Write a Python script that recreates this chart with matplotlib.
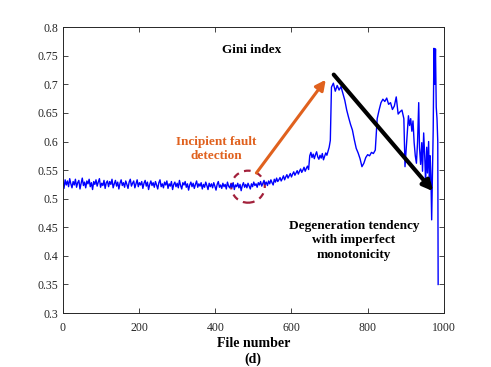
import numpy as np
import matplotlib
matplotlib.use("Agg")
import matplotlib.pyplot as plt
from matplotlib.patches import Ellipse

# Gini index per file
# steady phase and slow rise, every 3 files (0 - 702)
files_a = np.arange(0, 703, 3)
gini_a = [
    0.529, 0.518, 0.533, 0.524, 0.531, 0.521, 0.535, 0.526, 0.519, 0.530,
    0.524, 0.534, 0.520, 0.528, 0.532, 0.517, 0.527, 0.536, 0.523, 0.529,
    0.519, 0.531, 0.526, 0.534, 0.521, 0.528, 0.516, 0.530, 0.525, 0.533,
    0.522, 0.529, 0.535, 0.520, 0.527, 0.523, 0.532, 0.518, 0.528, 0.531,
    0.521, 0.530, 0.525, 0.534, 0.519, 0.526, 0.532, 0.522, 0.529, 0.517,
    0.527, 0.533, 0.523, 0.528, 0.520, 0.531, 0.525, 0.518, 0.529, 0.534,
    0.522, 0.527, 0.531, 0.519, 0.526, 0.533, 0.521, 0.528, 0.524, 0.530,
    0.518, 0.527, 0.532, 0.522, 0.529, 0.516, 0.525, 0.531, 0.523, 0.528,
    0.520, 0.530, 0.524, 0.517, 0.528, 0.533, 0.521, 0.526, 0.519, 0.529,
    0.524, 0.531, 0.518, 0.526, 0.522, 0.530, 0.516, 0.525, 0.529, 0.521,
    0.527, 0.519, 0.532, 0.523, 0.517, 0.528, 0.524, 0.530, 0.520, 0.526,
    0.515, 0.524, 0.529, 0.521, 0.527, 0.518, 0.525, 0.531, 0.520, 0.526,
    0.522, 0.528, 0.517, 0.525, 0.520, 0.529, 0.523, 0.516, 0.527, 0.521,
    0.526, 0.519, 0.528, 0.522, 0.515, 0.525, 0.530, 0.520, 0.524, 0.518,
    0.527, 0.521, 0.525, 0.517, 0.529, 0.522, 0.519, 0.526, 0.520, 0.528,
    0.516, 0.524, 0.521, 0.527, 0.519, 0.525, 0.514, 0.523, 0.528, 0.520,
    0.525, 0.519, 0.527, 0.522, 0.517, 0.526, 0.521, 0.529, 0.523, 0.526,
    0.520, 0.528, 0.524, 0.530, 0.522, 0.527, 0.532, 0.525, 0.529, 0.523,
    0.531, 0.526, 0.533, 0.528, 0.524, 0.534, 0.529, 0.536, 0.530, 0.533,
    0.537, 0.531, 0.535, 0.540, 0.533, 0.538, 0.542, 0.536, 0.540, 0.544,
    0.538, 0.543, 0.547, 0.541, 0.545, 0.549, 0.543, 0.548, 0.552, 0.546,
    0.550, 0.555, 0.548, 0.553, 0.557, 0.551, 0.575, 0.581, 0.572, 0.578,
    0.570, 0.577, 0.582, 0.573, 0.569, 0.576, 0.571, 0.579, 0.568, 0.574,
    0.580, 0.576, 0.583, 0.590, 0.602,
]

# peak, drop and second hump, every 5 files (705 - 890)
files_b = np.arange(705, 895, 5)
gini_b = [
    0.695, 0.702, 0.688, 0.698, 0.690, 0.696, 0.684, 0.672, 0.655, 0.642,
    0.630, 0.620, 0.603, 0.588, 0.580, 0.570, 0.556, 0.562, 0.572, 0.577,
    0.575, 0.581, 0.579, 0.585, 0.640, 0.655, 0.668, 0.674, 0.670, 0.676,
    0.665, 0.668, 0.656, 0.662, 0.678, 0.648, 0.652, 0.655,
]

# erratic end of life
files_c = [895, 898, 901, 904, 907, 910, 913, 916, 919, 922, 925, 928,
           931, 934, 936, 939, 942, 944, 947, 950, 952, 955, 957, 960,
           962, 964, 966, 968, 970, 972, 974, 976, 978, 980, 982, 984, 985]
gini_c = [0.640, 0.556, 0.585, 0.612, 0.645, 0.628, 0.640, 0.618, 0.636,
          0.598, 0.575, 0.562, 0.600, 0.668, 0.590, 0.560, 0.598, 0.548,
          0.615, 0.570, 0.528, 0.590, 0.545, 0.600, 0.525, 0.575, 0.540,
          0.463, 0.540, 0.620, 0.763, 0.700, 0.762, 0.660, 0.640, 0.600,
          0.350]

files = np.concatenate([files_a, files_b, files_c])
gini = np.concatenate([gini_a, gini_b, gini_c])

plt.rcParams['font.family'] = ['Liberation Serif', 'DejaVu Serif']

fig = plt.figure(figsize=(4.91, 3.67), dpi=100)
ax = fig.add_axes([0.128, 0.147, 0.776, 0.779])

ax.plot(files, gini, color='#0000FF', lw=1.0)

ax.set_xlim(0, 1000)
ax.set_ylim(0.3, 0.8)
ax.set_xticks(np.arange(0, 1001, 200))
ax.set_yticks(np.arange(0.3, 0.801, 0.05))
ax.set_yticklabels(['0.3', '0.35', '0.4', '0.45', '0.5', '0.55', '0.6',
                    '0.65', '0.7', '0.75', '0.8'])
ax.tick_params(direction='in', length=3.5, width=0.6, labelsize=8.5,
               top=True, right=True, colors='#262626', pad=3)
ax.tick_params(axis='x', pad=6.5)
for sp in ax.spines.values():
    sp.set_color('#262626')
    sp.set_linewidth(0.7)

ax.set_xlabel('File number\n(d)', fontsize=10, fontweight='bold',
              linespacing=1.3, labelpad=2)

ax.text(496, 0.76, 'Gini index', ha='center', va='center',
        fontsize=9.5, fontweight='bold')
ax.text(402, 0.587, 'Incipient fault\ndetection', ha='center', va='center',
        fontsize=9.5, fontweight='bold', color='#E0611E', linespacing=1.2)
ax.text(764, 0.427, 'Degeneration tendency\nwith imperfect\nmonotonicity',
        ha='center', va='center', fontsize=9.5, fontweight='bold',
        linespacing=1.25)

ax.add_patch(Ellipse((486, 0.521), 88, 0.056, fill=False, ls=(0, (3, 2.5)),
                     lw=1.6, edgecolor='#A2203A'))

ax.annotate('', xy=(690, 0.708), xytext=(508, 0.545),
            arrowprops=dict(arrowstyle='-|>,head_length=0.6,head_width=0.3',
                            color='#E0611E', lw=2.2, shrinkA=0, shrinkB=0))
ax.annotate('', xy=(972, 0.513), xytext=(711, 0.717),
            arrowprops=dict(arrowstyle='-|>,head_length=0.6,head_width=0.3',
                            color='black', lw=3.0, shrinkA=0, shrinkB=0))

fig.savefig('out.png', dpi=100)
